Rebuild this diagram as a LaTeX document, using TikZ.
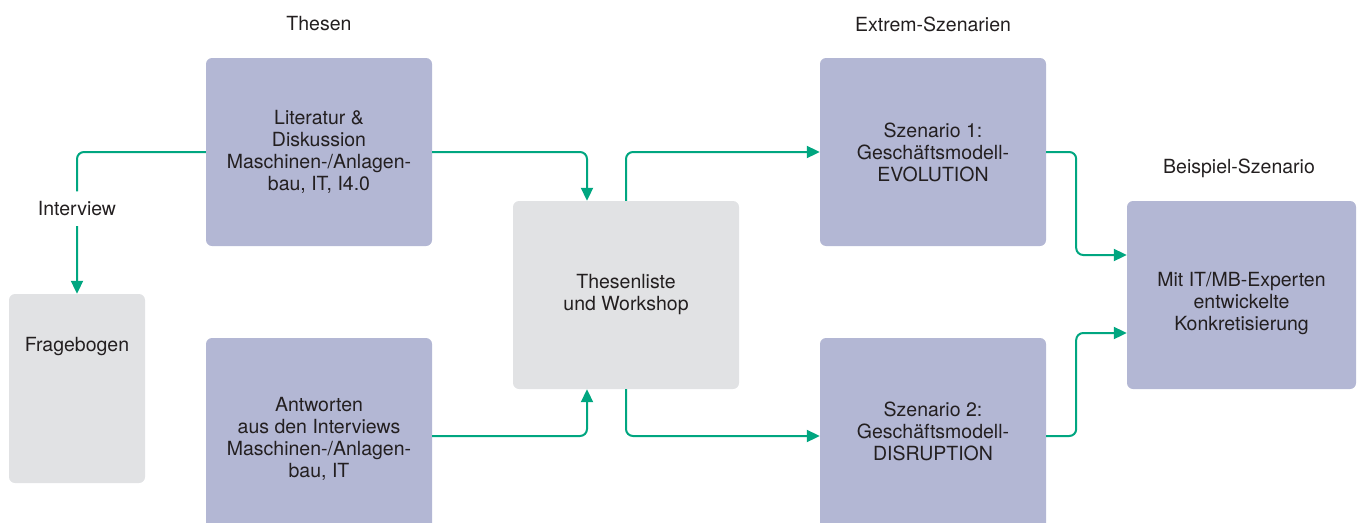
\documentclass[tikz,border=0pt]{standalone}
\usepackage{fontspec}
\setmainfont{TeX Gyre Heros}
\usepackage{tikz}
\usetikzlibrary{
    arrows.meta,
    calc,
    positioning
}

\definecolor{boxblue}{RGB}{179,183,212}
\definecolor{boxgrey}{RGB}{225,226,228}
\definecolor{flowgreen}{RGB}{0,166,128}
\definecolor{textdark}{RGB}{35,31,32}

\tikzset{
    blockblue/.style={fill=boxblue, rounded corners=6pt, align=center,
        minimum width=226pt, minimum height=188pt, inner sep=0pt},
    blockgrey/.style={blockblue, fill=boxgrey},
    flow/.style={draw=flowgreen, line width=2pt, rounded corners=7pt,
        -{Triangle[length=13pt,width=12pt]}},
    heading/.style={text=textdark}
}

\begin{document}
\begin{tikzpicture}[x=1pt, y=-1pt, text=textdark,
    font=\fontsize{19.5}{22}\selectfont]

% Frame
\useasboundingbox (0,0) rectangle (1359,522);
\clip (0,0) rectangle (1359,522);

% Headings
\node[heading] (hthesen) at (319,24) {Thesen};
\node[heading] (hextrem) at (933,24) {Extrem-Szenarien};
\node[heading] (hbeispiel) at (1239,168) {Beispiel-Szenario};

% Boxes
\node[blockblue] (lit) at (319,152) {Literatur \&\\Diskussion\\Maschinen-/Anlagen-\\bau, IT, I4.0};
\node[blockblue, minimum height=196pt] (antw) at (319,436) {\rule{0pt}{20pt}Antworten\\aus den Interviews\\Maschinen-/Anlagen-\\bau, IT};
\node[blockgrey, minimum width=136pt, minimum height=189pt,
    text height=14pt, text depth=89pt] (frage) at (77,388.5) {Fragebogen};
\node[blockgrey] (thesl) at (626,295) {Thesenliste\\und Workshop};
\node[blockblue] (sz1) at (933,152) {Szenario 1:\\Geschäftsmodell-\\EVOLUTION};
\node[blockblue, minimum height=196pt] (sz2) at (933,436) {Szenario 2:\\Geschäftsmodell-\\DISRUPTION\rule[-9pt]{0pt}{9pt}};
\node[blockblue, minimum width=229pt] (beisp) at (1241.5,295) {\rule{0pt}{32pt}Mit IT/MB-Experten\\entwickelte\\Konkretisierung};

% Connectors
\draw[flow] (lit.west) -| (frage.north)
    node[pos=0.7, fill=white, inner xsep=2pt, inner ysep=10pt] (interview) {Interview};
\draw[flow] (lit.east) -| ([xshift=-39pt]thesl.north);
\draw[flow] (antw.east) -| ([xshift=-39pt]thesl.south);
\draw[flow] (thesl.north) |- (sz1.west);
\draw[flow] (thesl.south) |- (sz2.west);
\draw[flow] (sz1.east) -- ++(30,0) |- ([yshift=40pt]beisp.west);
\draw[flow] (sz2.east) -- ++(30,0) |- ([yshift=-38pt]beisp.west);

\end{tikzpicture}
\end{document}
